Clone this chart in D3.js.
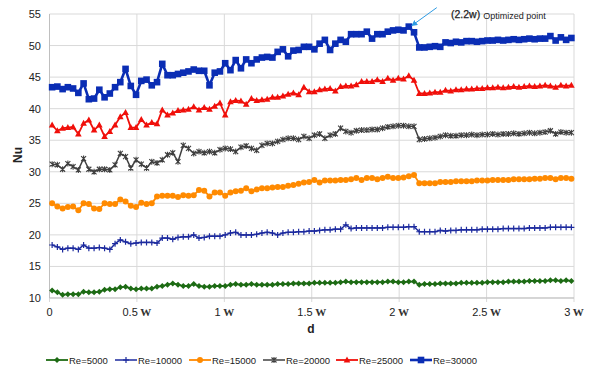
<!DOCTYPE html>
<html>
<head>
<meta charset="utf-8">
<script src="https://cdn.jsdelivr.net/npm/d3@7"></script>
<style>
  body { margin: 0; background: #fff; }
  svg { display: block; font-family: "Liberation Sans", Arial, sans-serif; }
</style>
</head>
<body>
<svg id="chart" width="596" height="370"></svg>
<script>
// d / W sample positions (one point every 0.03 W)
const dPos = d3.range(100).map(i => 0.015 + 0.03 * i);

const xTicks = [0, 0.5, 1, 1.5, 2, 2.5, 3];
const xTickNum = ["0", "0.5", "1", "1.5", "2", "2.5", "3"];
const yTicks = [10, 15, 20, 25, 30, 35, 40, 45, 50, 55];

const seriesNames = ["Re=5000", "Re=10000", "Re=15000", "Re=20000", "Re=25000", "Re=30000"];

const re5000 = [11.2,10.9,10.5,10.6,10.6,10.6,11.0,10.9,10.9,11.0,
  11.3,11.4,11.4,11.7,11.8,11.5,11.4,11.5,11.5,11.5,
  11.8,11.9,12.1,12.3,12.1,11.9,11.9,12.2,11.9,11.8,
  11.8,11.9,11.9,11.9,12.1,12.2,12.1,12.1,12.2,12.1,
  12.1,12.1,12.1,12.2,12.2,12.2,12.3,12.3,12.3,12.3,
  12.4,12.4,12.4,12.4,12.4,12.5,12.6,12.5,12.5,12.5,
  12.5,12.5,12.5,12.5,12.6,12.6,12.5,12.5,12.6,12.6,
  12.1,12.2,12.2,12.2,12.3,12.3,12.3,12.3,12.4,12.4,
  12.4,12.4,12.4,12.5,12.5,12.5,12.5,12.6,12.6,12.6,
  12.6,12.7,12.7,12.7,12.7,12.8,12.8,12.7,12.8,12.7];

const re10000 = [18.4,18.1,17.7,17.9,17.9,17.7,18.4,17.9,17.9,18.0,
  17.9,17.7,18.6,19.2,18.9,18.6,18.7,18.8,18.8,18.8,
  18.7,19.5,19.5,19.3,19.6,19.7,19.7,20.0,19.5,19.6,
  19.8,19.8,19.8,20.0,20.3,20.4,20.0,20.0,20.0,20.1,
  20.3,20.4,20.3,20.0,20.3,20.4,20.4,20.5,20.5,20.6,
  20.6,20.7,20.8,20.8,20.9,20.9,21.6,21.0,21.1,21.1,
  21.1,21.1,21.1,21.1,21.2,21.2,21.2,21.2,21.3,21.3,
  20.5,20.5,20.5,20.5,20.7,20.6,20.7,20.7,20.8,20.8,
  20.8,20.8,20.9,20.9,20.9,20.9,21.0,21.0,21.0,21.0,
  21.0,21.1,21.1,21.1,21.1,21.2,21.2,21.2,21.2,21.2];

const re15000 = [25.0,24.5,24.2,24.4,24.5,23.9,25.0,24.9,24.2,24.1,
  25.0,24.9,24.9,25.6,25.3,24.6,24.4,25.1,24.9,25.0,
  26.1,26.2,26.2,26.2,26.0,26.3,26.2,26.3,27.1,27.0,
  26.1,26.7,26.7,26.2,26.7,26.9,27.0,27.4,26.9,27.2,
  27.4,27.4,27.5,27.6,27.6,27.8,27.9,28.1,28.3,28.4,
  28.7,28.3,28.6,28.6,28.6,28.7,28.7,28.8,29.0,28.7,
  29.0,29.0,28.8,29.0,29.2,29.0,29.0,29.1,29.3,29.5,
  28.2,28.2,28.2,28.2,28.4,28.4,28.4,28.5,28.5,28.5,
  28.5,28.6,28.6,28.6,28.7,28.7,28.7,28.7,28.8,28.8,
  28.8,28.8,28.9,28.9,29.0,29.0,28.8,29.0,29.0,28.9];

const re20000 = [31.2,31.1,30.4,31.3,30.8,30.3,32.1,30.4,30.0,30.4,
  30.4,30.3,31.1,32.9,32.4,30.6,31.9,31.2,30.6,31.6,
  31.4,31.9,32.7,33.0,31.6,34.2,33.7,32.9,33.2,33.0,
  33.2,33.0,33.5,33.7,33.6,33.2,33.9,34.1,33.7,33.4,
  34.2,34.5,34.5,34.8,35.1,35.3,35.3,35.1,35.6,35.3,
  35.8,36.0,35.3,35.8,36.0,36.9,36.4,36.2,36.5,36.6,
  36.6,36.7,36.7,36.9,37.1,37.2,37.3,37.3,37.2,37.2,
  35.1,35.2,35.3,35.4,35.6,35.8,35.7,35.7,35.8,35.8,
  35.9,35.8,35.9,35.9,36.0,35.9,36.0,36.0,36.1,36.0,
  36.1,36.2,36.1,36.2,36.3,36.5,36.0,36.3,36.2,36.2];

const re25000 = [37.4,36.5,36.9,37.0,37.1,36.0,37.7,38.2,36.6,37.4,
  35.6,36.4,37.4,38.7,39.4,37.0,37.0,38.3,37.4,37.8,
  37.6,39.8,39.0,39.3,39.7,39.8,39.9,40.3,39.8,40.2,
  39.9,40.4,40.9,39.0,41.1,41.3,41.2,40.7,41.6,41.3,
  41.4,41.5,41.8,41.8,42.0,42.3,42.5,42.2,43.4,42.7,
  42.7,43.0,43.1,43.2,42.8,43.5,43.6,43.6,43.8,44.3,
  44.3,44.3,44.6,44.3,44.8,44.5,44.8,44.7,45.2,44.5,
  42.4,42.4,42.5,42.6,42.6,42.9,42.8,43.0,43.0,43.1,
  43.1,43.2,43.2,43.3,43.3,43.4,43.3,43.4,43.5,43.4,
  43.5,43.6,43.5,43.6,43.7,43.6,43.4,43.7,43.6,43.7];

const re30000 = [43.4,43.5,43.1,43.4,43.2,42.5,44.0,41.5,41.6,43.0,
  41.8,42.4,43.4,44.2,46.3,43.6,42.2,44.4,44.6,43.7,
  44.2,47.1,45.3,45.3,45.5,45.7,45.9,46.2,46.0,46.0,
  43.7,45.7,45.9,47.2,46.1,47.7,46.4,47.8,47.2,47.8,
  48.1,48.2,48.1,49.0,49.4,48.3,49.2,49.3,49.8,49.8,
  49.4,50.3,50.9,49.3,50.3,50.9,50.6,51.8,51.8,51.8,
  52.2,51.1,51.8,51.8,52.2,52.4,52.5,52.4,53.0,52.1,
  49.7,49.7,49.8,49.9,49.8,50.5,50.4,50.6,50.5,50.7,
  50.7,50.6,50.7,50.8,50.8,50.9,50.8,50.9,51.0,50.9,
  51.0,51.1,51.0,51.1,51.1,51.5,50.8,51.3,50.9,51.2];

const allSeries = [re5000, re10000, re15000, re20000, re25000, re30000];
const colors = ["#1d6b14", "#1c2a9e", "#ff8a00", "#404040", "#f00f0a", "#0a2db4"];
const lineWidths = [1.8, 1.5, 1.8, 1.5, 1.8, 2.6];
const markerKind = ["diamond", "plus", "circle", "star", "triangle", "square"];

const svg = d3.select("#chart");
const margin = { left: 49.5, right: 22, top: 14, bottom: 72 };
const W = 596, H = 370;

const x = d3.scaleLinear().domain([0, 3]).range([margin.left, W - margin.right]);
const y = d3.scaleLinear().domain([10, 55]).range([H - margin.bottom, margin.top]);

// grid
const grid = svg.append("g");
grid.selectAll(".hg").data(yTicks).enter().append("line")
  .attr("x1", x(0)).attr("x2", x(3))
  .attr("y1", d => y(d)).attr("y2", d => y(d))
  .attr("stroke", "#d9d9d9").attr("stroke-width", 1);
grid.selectAll(".vg").data(xTicks).enter().append("line")
  .attr("x1", d => x(d)).attr("x2", d => x(d))
  .attr("y1", y(55)).attr("y2", y(10) + 4)
  .attr("stroke", "#d9d9d9").attr("stroke-width", 1);

// axes lines
svg.append("line").attr("x1", x(0)).attr("x2", x(0)).attr("y1", y(55)).attr("y2", y(10))
  .attr("stroke", "#bfbfbf");
svg.append("line").attr("x1", x(0)).attr("x2", x(3)).attr("y1", y(10)).attr("y2", y(10))
  .attr("stroke", "#bfbfbf");

// y tick labels
svg.append("g").selectAll("text").data(yTicks).enter().append("text")
  .attr("x", 41).attr("y", d => y(d) + 4)
  .attr("text-anchor", "end").attr("font-size", 11).attr("fill", "#222")
  .text(d => d);

// x tick labels (number + serif W)
const xl = svg.append("g").selectAll("text").data(xTicks).enter().append("text")
  .attr("x", d => x(d)).attr("y", 316)
  .attr("text-anchor", "middle").attr("font-size", 11).attr("fill", "#222");
xl.append("tspan").text((d, i) => xTickNum[i]);
xl.filter(d => d > 0).append("tspan")
  .attr("font-family", "'Liberation Serif', serif").attr("font-weight", "bold")
  .attr("fill", "#333").text(" W");

// axis titles
svg.append("text").attr("transform", "translate(22,155) rotate(-90)")
  .attr("text-anchor", "middle").attr("font-size", 12).attr("font-weight", "bold")
  .attr("fill", "#222").text("Nu");
svg.append("text").attr("x", 311).attr("y", 333)
  .attr("text-anchor", "middle").attr("font-size", 12).attr("font-weight", "bold")
  .attr("fill", "#222").text("d");

function drawMarker(g, kind, color, cx, cy) {
  if (kind === "diamond") {
    g.append("path").attr("d", `M${cx},${cy - 3}L${cx + 3},${cy}L${cx},${cy + 3}L${cx - 3},${cy}Z`)
      .attr("fill", color);
  } else if (kind === "plus") {
    g.append("path").attr("d", `M${cx - 3},${cy}H${cx + 3}M${cx},${cy - 3}V${cy + 3}`)
      .attr("stroke", color).attr("stroke-width", 1.2).attr("fill", "none");
  } else if (kind === "circle") {
    g.append("circle").attr("cx", cx).attr("cy", cy).attr("r", 3).attr("fill", color);
  } else if (kind === "star") {
    g.append("path").attr("d", `M${cx - 2.5},${cy - 2.5}L${cx + 2.5},${cy + 2.5}M${cx + 2.5},${cy - 2.5}L${cx - 2.5},${cy + 2.5}M${cx},${cy - 3}V${cy + 3}`)
      .attr("stroke", color).attr("stroke-width", 1.1).attr("fill", "none");
  } else if (kind === "triangle") {
    g.append("path").attr("d", `M${cx},${cy - 3.5}L${cx + 3.3},${cy + 2.5}L${cx - 3.3},${cy + 2.5}Z`)
      .attr("fill", color);
  } else if (kind === "square") {
    g.append("rect").attr("x", cx - 3.3).attr("y", cy - 3.3).attr("width", 6.6).attr("height", 6.6)
      .attr("fill", color);
  }
}

const line = d3.line().x((d, i) => x(dPos[i])).y(d => y(d));

allSeries.forEach((vals, s) => {
  const g = svg.append("g");
  g.append("path").datum(vals).attr("d", line)
    .attr("fill", "none").attr("stroke", colors[s]).attr("stroke-width", lineWidths[s])
    .attr("stroke-linejoin", "round");
  vals.forEach((v, i) => drawMarker(g, markerKind[s], colors[s], x(dPos[i]), y(v)));
});

// annotation for the optimized point
const peakIdx = re30000.indexOf(d3.max(re30000));
const px = x(dPos[peakIdx]), py = y(re30000[peakIdx]);
svg.append("defs").append("marker").attr("id", "arr")
  .attr("viewBox", "0 0 10 10").attr("refX", 9).attr("refY", 5)
  .attr("markerWidth", 6).attr("markerHeight", 6).attr("orient", "auto")
  .append("path").attr("d", "M0,0L10,5L0,10Z").attr("fill", "#2f9be3");
svg.append("line").attr("x1", px + 28).attr("y1", py - 19).attr("x2", px + 3).attr("y2", py - 1)
  .attr("stroke", "#2f9be3").attr("stroke-width", 1).attr("marker-end", "url(#arr)");
const ann = svg.append("text").attr("x", 451).attr("y", 18).attr("font-size", 10.5)
  .attr("fill", "#222").attr("stroke", "#222").attr("stroke-width", 0.25).text("(2.2w)");
svg.append("text").attr("x", 451 + ann.node().getComputedTextLength() + 3).attr("y", 19)
  .attr("font-size", 9).attr("fill", "#222").text("Optimized point");

// legend
const leg = svg.append("g");
const legendX = [46, 115, 189, 263, 336, 410];
const ly = 360;
seriesNames.forEach((name, s) => {
  const lx = legendX[s];
  leg.append("line").attr("x1", lx).attr("x2", lx + 22).attr("y1", ly).attr("y2", ly)
    .attr("stroke", colors[s]).attr("stroke-width", lineWidths[s]);
  drawMarker(leg, markerKind[s], colors[s], lx + 11, ly);
  leg.append("text").attr("x", lx + 23).attr("y", ly + 3.5)
    .attr("font-size", 9.5).attr("fill", "#222").text(name);
});
</script>
</body>
</html>
